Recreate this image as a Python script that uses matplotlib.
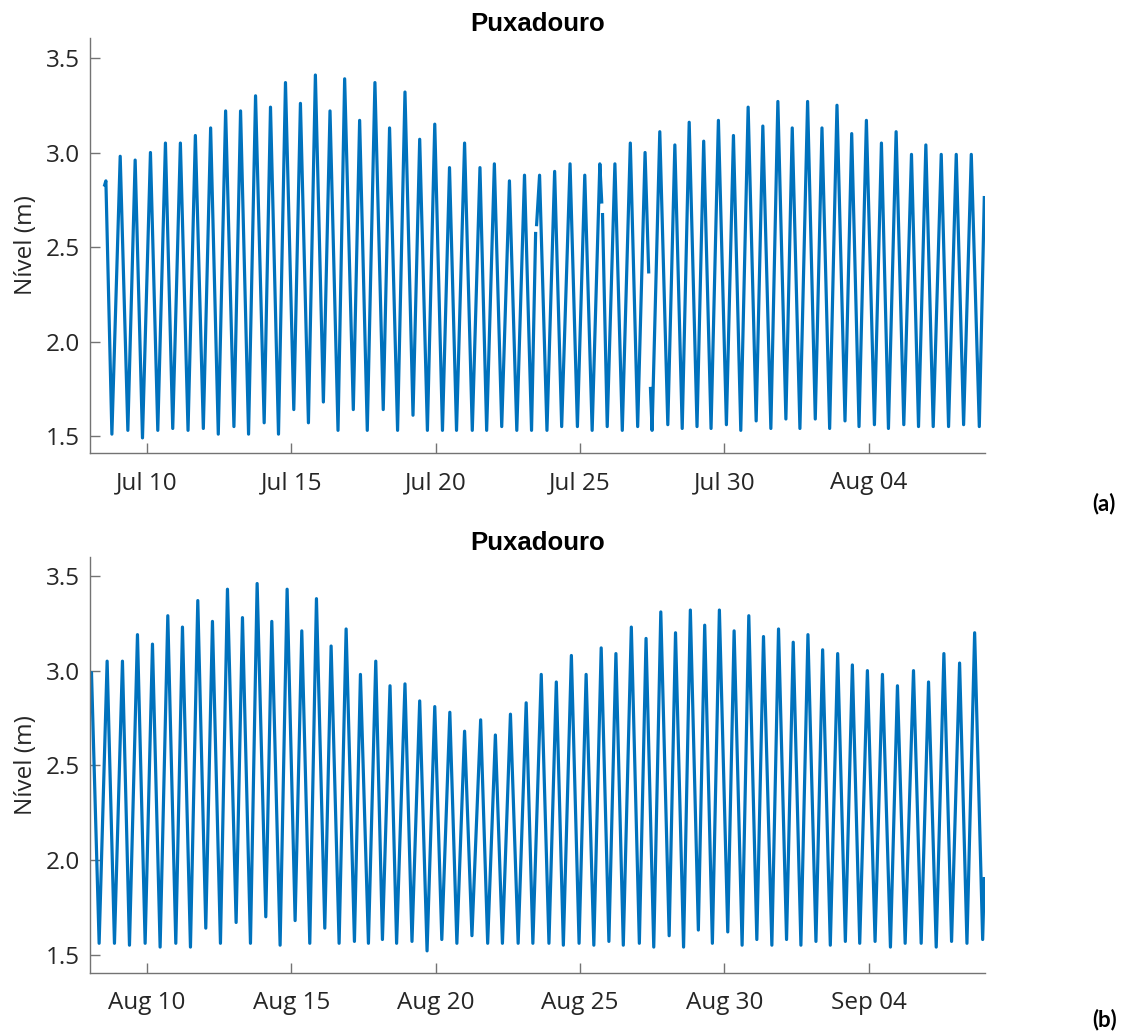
import numpy as np
import matplotlib
matplotlib.use("Agg")
import matplotlib.pyplot as plt
import matplotlib.dates as mdates
from datetime import datetime

# ---------------------------------------------------------------------------
# Water level at Puxadouro (m). Times are day-of-month (fractional) counted
# from the first day of the panel's starting month; NaN marks missing samples.
# ---------------------------------------------------------------------------
nan = np.nan

# Panel (a): July - early August
days_a = [
    8.514, 8.571, 8.779, 9.067, 9.332, 9.585, 9.839, 10.115, 10.369, 10.634,
    10.887, 11.152, 11.417, 11.671, 11.947, 12.200, 12.465, 12.719, 13.007, 13.237,
    13.514, 13.756, 14.055, 14.274, 14.551, 14.793, 15.081, 15.311, 15.588, 15.829,
    16.106, 16.336, 16.613, 16.843, 17.143, 17.362, 17.627, 17.892, 18.180, 18.399,
    18.677, 18.933, 19.211, 19.443, 19.710, 19.965, 20.232, 20.476, 20.719, 20.998,
    21.265, 21.531, 21.763, 22.030, 22.285, 22.552, 22.807, 23.074, 23.318,
    23.460, 23.475, 23.490,
    23.596, 23.852, 24.118, 24.362, 24.652, 24.907, 25.162, 25.418, 25.684,
    25.752, 25.764, 25.776,
    25.940, 26.206, 26.462, 26.740, 26.995, 27.251,
    27.378, 27.407, 27.436,
    27.494, 27.761, 28.039, 28.283, 28.538, 28.780,
    29.051, 29.282, 29.537, 29.792, 30.069, 30.313, 30.567, 30.822, 31.100, 31.331,
    31.609, 31.852, 32.130, 32.350, 32.616, 32.882, 33.148, 33.380, 33.646, 33.900,
    34.178, 34.410, 34.664, 34.919, 35.197, 35.440, 35.683, 35.949, 36.215, 36.481,
    36.725, 36.979, 37.234, 37.512, 37.766, 38.032, 38.287, 38.553, 38.831, 39.005,
]
level_a = [
    2.82, 2.85, 1.51, 2.98, 1.53, 2.96, 1.49, 3.00, 1.53, 3.05,
    1.54, 3.05, 1.53, 3.09, 1.54, 3.13, 1.51, 3.22, 1.55, 3.22,
    1.51, 3.30, 1.57, 3.24, 1.51, 3.37, 1.64, 3.26, 1.57, 3.41,
    1.68, 3.22, 1.53, 3.39, 1.64, 3.17, 1.53, 3.37, 1.64, 3.13,
    1.53, 3.32, 1.61, 3.07, 1.53, 3.15, 1.53, 2.92, 1.53, 3.05,
    1.53, 2.92, 1.53, 2.94, 1.55, 2.85, 1.53, 2.88, 1.53,
    2.58, nan, 2.61,
    2.88, 1.53, 2.90, 1.55, 2.94, 1.55, 2.88, 1.53, 2.94,
    2.73, nan, 2.68,
    1.55, 2.94, 1.53, 3.05, 1.55, 3.00,
    2.36, nan, 1.76,
    1.53, 3.11, 1.56, 3.04, 1.54, 3.16,
    1.55, 3.06, 1.54, 3.17, 1.56, 3.09, 1.53, 3.24, 1.58, 3.14,
    1.54, 3.27, 1.59, 3.13, 1.54, 3.27, 1.59, 3.13, 1.54, 3.25,
    1.58, 3.10, 1.55, 3.17, 1.56, 3.05, 1.54, 3.11, 1.56, 2.99,
    1.55, 3.04, 1.55, 2.99, 1.55, 2.99, 1.56, 2.99, 1.55, 2.77,
]

# Panel (b): August - early September
days_b = [
    8.020, 8.072, 8.337, 8.614, 8.868, 9.145, 9.388, 9.665, 9.931, 10.185,
    10.450, 10.716, 10.993, 11.224, 11.501, 11.755, 12.032, 12.263, 12.540, 12.783,
    13.083, 13.303, 13.580, 13.811, 14.111, 14.319, 14.607, 14.850, 15.127, 15.358,
    15.635, 15.866, 16.155, 16.374, 16.651, 16.894, 17.182, 17.390, 17.667, 17.921,
    18.152, 18.415, 18.643, 18.933, 19.176, 19.443, 19.698, 19.965, 20.209, 20.487,
    20.731, 20.998, 21.253, 21.555, 21.798, 22.065, 22.309, 22.587, 22.854, 23.132,
    23.364, 23.654, 23.921, 24.176, 24.420, 24.698, 24.965, 25.209, 25.476, 25.731,
    25.998, 26.241, 26.497, 26.775, 27.053, 27.285, 27.552, 27.796, 28.086, 28.306,
    28.585, 28.820, 29.097, 29.317, 29.583, 29.826, 30.116, 30.336, 30.613, 30.845,
    31.123, 31.354, 31.644, 31.875, 32.153, 32.384, 32.650, 32.894, 33.171, 33.403,
    33.669, 33.924, 34.190, 34.433, 34.688, 34.954, 35.220, 35.475, 35.752, 35.995,
    36.262, 36.551, 36.817, 37.072, 37.338, 37.604, 37.870, 38.148, 38.403, 38.669,
    38.947, 39.005,
]
level_b = [
    2.78, 2.99, 1.56, 3.05, 1.56, 3.05, 1.55, 3.19, 1.56, 3.14,
    1.54, 3.29, 1.56, 3.23, 1.54, 3.37, 1.64, 3.26, 1.56, 3.43,
    1.67, 3.28, 1.56, 3.46, 1.70, 3.26, 1.55, 3.43, 1.68, 3.21,
    1.56, 3.38, 1.64, 3.13, 1.56, 3.22, 1.57, 2.98, 1.56, 3.05,
    1.58, 2.92, 1.56, 2.93, 1.57, 2.84, 1.52, 2.81, 1.58, 2.78,
    1.56, 2.68, 1.60, 2.74, 1.56, 2.66, 1.56, 2.77, 1.56, 2.83,
    1.56, 2.98, 1.56, 2.94, 1.55, 3.08, 1.56, 2.98, 1.55, 3.12,
    1.57, 3.09, 1.55, 3.23, 1.56, 3.17, 1.54, 3.31, 1.60, 3.20,
    1.54, 3.32, 1.63, 3.24, 1.56, 3.32, 1.62, 3.21, 1.55, 3.29,
    1.58, 3.18, 1.55, 3.22, 1.58, 3.15, 1.55, 3.19, 1.57, 3.11,
    1.55, 3.09, 1.57, 3.03, 1.56, 3.00, 1.57, 2.98, 1.54, 2.92,
    1.56, 3.00, 1.56, 2.94, 1.54, 3.09, 1.57, 3.04, 1.56, 3.20,
    1.58, 1.91,
]

month_start_a = datetime(2021, 7, 1)
month_start_b = datetime(2021, 8, 1)
tick_days = [10, 15, 20, 25, 30, 35]
yticks = [1.5, 2.0, 2.5, 3.0, 3.5]
station = "Puxadouro"
panel_tags = ["(a)", "(b)"]

LINE = "#0072BD"
SPINE = "#737373"
TEXT = "#262626"


def to_num(start, days):
    return mdates.date2num(start) + np.asarray(days, dtype=float) - 1.0


fig = plt.figure(figsize=(11.29, 10.35), dpi=100)
left, width = 0.0797, 0.7928
ax_a = fig.add_axes([left, 0.5623, width, 0.4010])
ax_b = fig.add_axes([left, 0.0599, width, 0.4019])

panels = [
    (ax_a, month_start_a, days_a, level_a, (1.41, 3.606)),
    (ax_b, month_start_b, days_b, level_b, (1.403, 3.60)),
]

for ax, start, days, level, ylim in panels:
    ax.plot(to_num(start, days), level, color=LINE, lw=2.3,
            solid_joinstyle="round", solid_capstyle="butt")
    ax.set_xlim(to_num(start, [8.02, 39.03]))
    ax.set_ylim(*ylim)
    ax.set_xticks(to_num(start, tick_days))
    ax.xaxis.set_major_formatter(mdates.DateFormatter("%b %d"))
    ax.set_yticks(yticks)
    ax.yaxis.set_major_formatter(matplotlib.ticker.FormatStrFormatter("%.1f"))
    for side in ("top", "right"):
        ax.spines[side].set_visible(False)
    for side in ("left", "bottom"):
        ax.spines[side].set_color(SPINE)
        ax.spines[side].set_linewidth(1.0)
    ax.tick_params(direction="in", length=7, width=1.0, color=SPINE,
                   labelcolor=TEXT, labelsize=17.5)
    ax.tick_params(axis="x", pad=13)
    ax.tick_params(axis="y", pad=7)
    for lab in ax.get_xticklabels() + ax.get_yticklabels():
        lab.set_fontfamily("Open Sans")
    ax.set_ylabel("Nível (m)", fontsize=17.5, color=TEXT,
                  family="Open Sans", labelpad=6)
    ax.set_title(station, fontsize=18.5, fontweight="bold",
                 family="Liberation Sans", color="black", pad=5)

fig.text(0.978, 0.514, panel_tags[0], fontsize=16, fontweight="bold",
         family="Lato", ha="center", va="center", color="black")
fig.text(0.978, 0.0145, panel_tags[1], fontsize=16, fontweight="bold",
         family="Lato", ha="center", va="center", color="black")

fig.savefig("out.png", dpi=100, facecolor="white")
